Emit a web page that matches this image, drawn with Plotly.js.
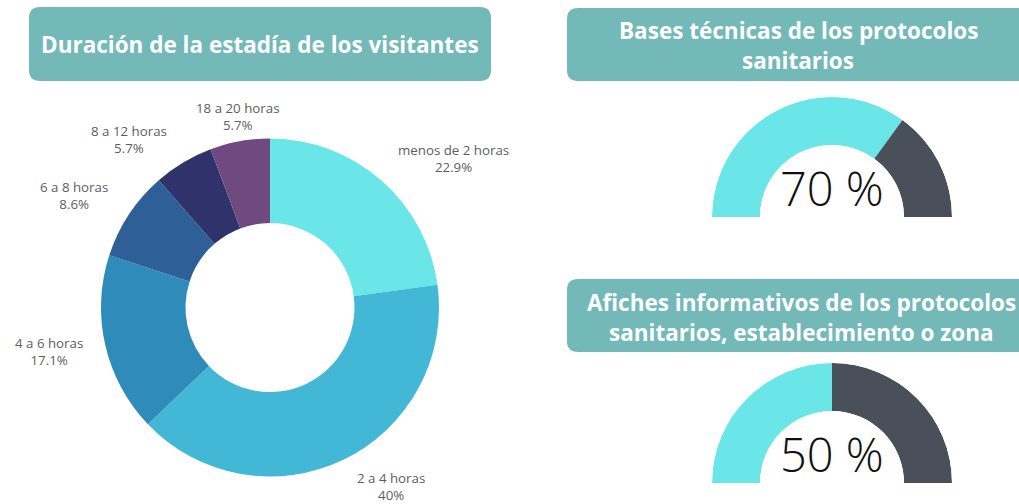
<!DOCTYPE html>
<html>
<head>
<meta charset="utf-8">
<script src="https://cdn.plot.ly/plotly-3.0.1.min.js"></script>
<style>html,body{margin:0;padding:0;background:#fff;}#chart{width:1019px;height:504px;}</style>
</head>
<body>
<div id="chart"></div>
<script>
// ---- data ----
const stayLabels = ["menos de 2 horas", "2 a 4 horas", "4 a 6 horas", "6 a 8 horas", "8 a 12 horas", "18 a 20 horas"];
const stayCounts = [8, 14, 6, 3, 2, 2];
const stayColors = ["#6ae5e8", "#42b7d6", "#2e8bba", "#2e5f96", "#30336b", "#6f4a80"];
const donutTitle = "Duración de la estadía de los visitantes";
const gaugeTitles = [["Bases técnicas de los protocolos", "sanitarios"],
                     ["Afiches informativos de los protocolos", "sanitarios, establecimiento o zona"]];
const gaugeValues = [70, 50];
const gaugeColors = ["#6ae5e8", "#4a5059"];

// ---- helpers (pixel -> paper) ----
const W = 1019, H = 504;
const px = x => x / W;
const py = y => 1 - y / H;
function roundRect(x0, y0, x1, y1, r) {
  const p = (x, y) => px(x) + "," + py(y);
  return "M" + p(x0 + r, y0) + " L" + p(x1 - r, y0) + " Q" + p(x1, y0) + " " + p(x1, y0 + r) +
         " L" + p(x1, y1 - r) + " Q" + p(x1, y1) + " " + p(x1 - r, y1) +
         " L" + p(x0 + r, y1) + " Q" + p(x0, y1) + " " + p(x0, y1 - r) +
         " L" + p(x0, y0 + r) + " Q" + p(x0, y0) + " " + p(x0 + r, y0) + " Z";
}

const total = stayCounts.reduce((a, b) => a + b, 0);
const pctText = stayCounts.map(v => (Math.round(v / total * 1000) / 10) + "%");

// donut geometry (pixels)
const DC = {cx: 270, cy: 307.5, r: 169};

const traces = [];
traces.push({
  type: "pie",
  labels: stayLabels,
  values: stayCounts,
  textinfo: "none",
  marker: {colors: stayColors, line: {width: 0}},
  hole: 0.5,
  sort: false,
  direction: "clockwise",
  rotation: 0,
  showlegend: false,
  hoverinfo: "label+percent",
  domain: {x: [px(DC.cx - DC.r), px(DC.cx + DC.r)], y: [py(DC.cy + DC.r), py(DC.cy - DC.r)]}
});

// gauges as half-ring barpolar
const gaugeGeom = [{cx: 832, cy: 217}, {cx: 832, cy: 483}];
const layoutPolar = {};
gaugeValues.forEach((v, i) => {
  const key = i === 0 ? "polar" : "polar" + (i + 1);
  const filled = v * 1.8, rest = 180 - filled;
  traces.push({
    type: "barpolar",
    subplot: key,
    r: [1, 1],
    theta: [180 - filled / 2, rest / 2],
    width: [filled, rest],
    base: [0, 0],
    marker: {color: gaugeColors, line: {width: 0}},
    showlegend: false,
    hoverinfo: "skip"
  });
  const g = gaugeGeom[i], R = 120;
  layoutPolar[key] = {
    domain: {x: [px(g.cx - R), px(g.cx + R)], y: [py(g.cy), py(g.cy - R)]},
    sector: [0, 180],
    hole: 0.6,
    bgcolor: "rgba(0,0,0,0)",
    radialaxis: {range: [0, 1], visible: false, showgrid: false, showline: false, showticklabels: false, ticks: ""},
    angularaxis: {visible: false, showgrid: false, showline: false, showticklabels: false, ticks: ""},
    bargap: 0
  };
});

const teal = "#72b9b8";
const shapes = [
  {type: "path", xref: "paper", yref: "paper", path: roundRect(29, 7, 491, 81, 11), fillcolor: teal, line: {width: 0}, layer: "below"},
  {type: "path", xref: "paper", yref: "paper", path: roundRect(567, 8, 1040, 81, 11), fillcolor: teal, line: {width: 0}, layer: "below"},
  {type: "path", xref: "paper", yref: "paper", path: roundRect(567, 279, 1040, 352, 11), fillcolor: teal, line: {width: 0}, layer: "below"}
];

const titleFont = {family: "Open Sans", size: 22.5, color: "#ffffff", weight: 700};
const annotations = [
  {text: donutTitle, x: px(260), y: py(44), xref: "paper", yref: "paper", showarrow: false, xanchor: "center", yanchor: "middle", font: titleFont},
  {text: gaugeTitles[0][0], x: px(798), y: py(30), xref: "paper", yref: "paper", showarrow: false, xanchor: "center", yanchor: "middle", font: titleFont},
  {text: gaugeTitles[0][1], x: px(798), y: py(60), xref: "paper", yref: "paper", showarrow: false, xanchor: "center", yanchor: "middle", font: titleFont},
  {text: gaugeTitles[1][0], x: px(801), y: py(302), xref: "paper", yref: "paper", showarrow: false, xanchor: "center", yanchor: "middle", font: titleFont},
  {text: gaugeTitles[1][1], x: px(801), y: py(332), xref: "paper", yref: "paper", showarrow: false, xanchor: "center", yanchor: "middle", font: titleFont}
];

// outside slice labels, placed along each slice's mid-angle
let cum = 0;
stayCounts.forEach((v, i) => {
  const mid = (cum + v / 2) / total * 2 * Math.PI;
  cum += v;
  const s = Math.sin(mid), c = Math.cos(mid);
  const rr = DC.r + 13;
  const xa = s > 0.3 ? "left" : (s < -0.3 ? "right" : "center");
  const ya = c > 0.3 ? "bottom" : (c < -0.3 ? "top" : "middle");
  annotations.push({
    text: stayLabels[i] + "<br>" + pctText[i],
    x: px(DC.cx + rr * s), y: py(DC.cy - rr * c), xref: "paper", yref: "paper",
    xshift: xa === "left" ? 6 : (xa === "right" ? -8 : 0),
    yshift: ya === "bottom" ? -8 : (ya === "middle" ? -4 : 4),
    showarrow: false, xanchor: xa, yanchor: ya, align: "center",
    font: {family: "Open Sans", size: 13.3, color: "#5e5e5e"}
  });
});

gaugeValues.forEach((v, i) => {
  const g = gaugeGeom[i];
  annotations.push({text: v + " %", x: px(g.cx), y: py(g.cy - 29), xref: "paper", yref: "paper", showarrow: false,
    xanchor: "center", yanchor: "middle", font: {family: "Open Sans", size: 47, color: "#111111", weight: 300}});
});

const layout = Object.assign({
  width: W, height: H,
  margin: {l: 0, r: 0, t: 0, b: 0},
  paper_bgcolor: "#ffffff",
  plot_bgcolor: "#ffffff",
  showlegend: false,
  shapes: shapes,
  annotations: annotations
}, layoutPolar);

Plotly.newPlot("chart", traces, layout, {displayModeBar: false, staticPlot: true});
</script>
</body>
</html>
